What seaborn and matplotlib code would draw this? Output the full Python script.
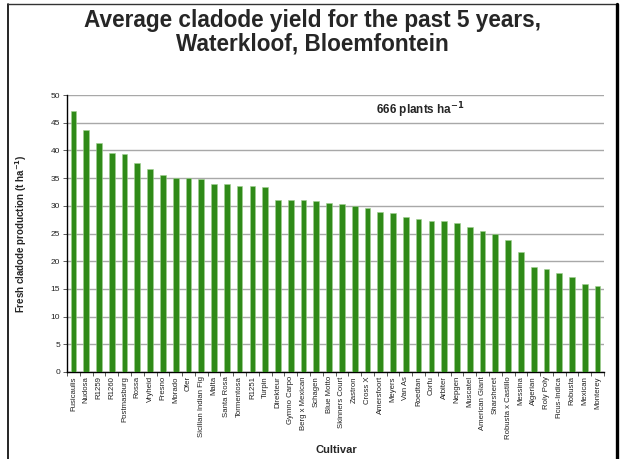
import numpy as np
import pandas as pd
import matplotlib
matplotlib.use("Agg")
import matplotlib.pyplot as plt
from matplotlib.ticker import FixedLocator
import seaborn as sns

cultivars = ["Fusicaulis", "Nudosa", "R1259", "R1260", "Postmasburg", "Rossa", "Vryheid",
             "Fresno", "Morado", "Ofer", "Sicilian Indian Fig", "Malta", "Santa Rosa",
             "Tormentosa", "R1251", "Turpin", "Direkteur", "Gymno Carpo", "Berg x Mexican",
             "Schagen", "Blue Motto", "Skinners Court", "Zastron", "Cross X", "Amersfoort",
             "Meyers", "Van As", "Roedtan", "Corfu", "Arbiter", "Nepgen", "Muscatel",
             "American Giant", "Sharsheret", "Robusta x Castillo", "Messina", "Algerian",
             "Roly Poly", "Ficus-Indica", "Robusta", "Mexican", "Monterey"]
yields = [47.2, 43.7, 41.3, 39.6, 39.4, 37.8, 36.7,
          35.6, 35.1, 35.0, 34.9, 34.0, 33.9,
          33.6, 33.6, 33.4, 31.1, 31.1, 31.1,
          30.8, 30.5, 30.4, 29.9, 29.6, 28.9,
          28.7, 27.9, 27.7, 27.3, 27.2, 26.9, 26.2,
          25.4, 25.0, 23.9, 21.7, 19.0,
          18.6, 17.9, 17.2, 15.8, 15.6]
yticks = [0, 5, 10, 15, 20, 25, 30, 35, 40, 45, 50]

df = pd.DataFrame({"Cultivar": cultivars, "Yield": yields})

sns.set_style("white")
plt.rcParams['font.family'] = ['Liberation Sans', 'DejaVu Sans']

W, H = 622, 459
fig = plt.figure(figsize=(W / 100, H / 100), dpi=100)
ax = fig.add_axes([67 / W, 1 - 372 / H, (604 - 67) / W, (372 - 95) / H])

sns.barplot(data=df, x="Cultivar", y="Yield", color="#2f8a18", width=0.45,
            saturation=1, ax=ax, edgecolor="#9fcf8f", linewidth=0.4, zorder=3)

ax.set_ylim(0, 50)
ax.set_xlim(-0.5, len(cultivars) - 0.5)
ax.set_yticks(yticks)
ax.set_yticklabels([str(v) for v in yticks], fontsize=6, color="#222222")
ax.yaxis.grid(True, color="#a8a8a8", linewidth=1.0, zorder=0)
ax.set_axisbelow(True)

ax.set_xticks(range(len(cultivars)))
ax.set_xticklabels(cultivars, rotation=90, fontsize=5.6, color="#222222")
ax.xaxis.set_minor_locator(FixedLocator(np.arange(-0.5, len(cultivars), 1.0)))
ax.tick_params(axis="x", which="major", length=0, pad=3)
ax.tick_params(axis="x", which="minor", length=3, width=0.6, color="#444444", direction="out", bottom=True)
ax.tick_params(axis="y", which="major", length=3, width=0.6, color="#444444", direction="out", left=True, pad=2)

for s in ["top", "right"]:
    ax.spines[s].set_visible(False)
for s in ["left", "bottom"]:
    ax.spines[s].set_color("black")
    ax.spines[s].set_linewidth(1.0)

ax.set_xlabel("Cultivar", fontsize=8, fontweight="bold")
ax.xaxis.set_label_coords((336 - 67) / (604 - 67), -(445 - 372) / (372 - 95))
ax.set_ylabel("Fresh cladode production (t ha$^{\\mathbf{-1}}$)", fontsize=7, fontweight="bold")
ax.yaxis.set_label_coords(-(67 - 29) / (604 - 67), 0.5)

ax.text((420 - 67) / (604 - 67), 1 - (110 - 95) / (372 - 95), "666 plants ha$^{\\mathbf{-1}}$",
        transform=ax.transAxes, ha="center", va="center", fontsize=8.5, fontweight="bold")

fig.text(0.5 * (8 + 617) / W, 1 - 21 / H, "Average cladode yield for the past 5 years,",
         ha="center", va="center", fontsize=16.3, fontweight="bold")
fig.text(0.5 * (8 + 617) / W, 1 - 44 / H, "Waterkloof, Bloemfontein",
         ha="center", va="center", fontsize=16.3, fontweight="bold")

# frame around chart
fig.add_artist(plt.Line2D([8 / W, 8 / W], [0, 1 - 3.5 / H], transform=fig.transFigure, color="black", lw=1.2))
fig.add_artist(plt.Line2D([8 / W, 617 / W], [1 - 3.5 / H, 1 - 3.5 / H], transform=fig.transFigure, color="#333333", lw=1.0))
fig.add_artist(plt.Line2D([616.5 / W, 616.5 / W], [0, 1 - 3.5 / H], transform=fig.transFigure, color="black", lw=2.4))

fig.savefig("out.png", dpi=100, facecolor="white")
